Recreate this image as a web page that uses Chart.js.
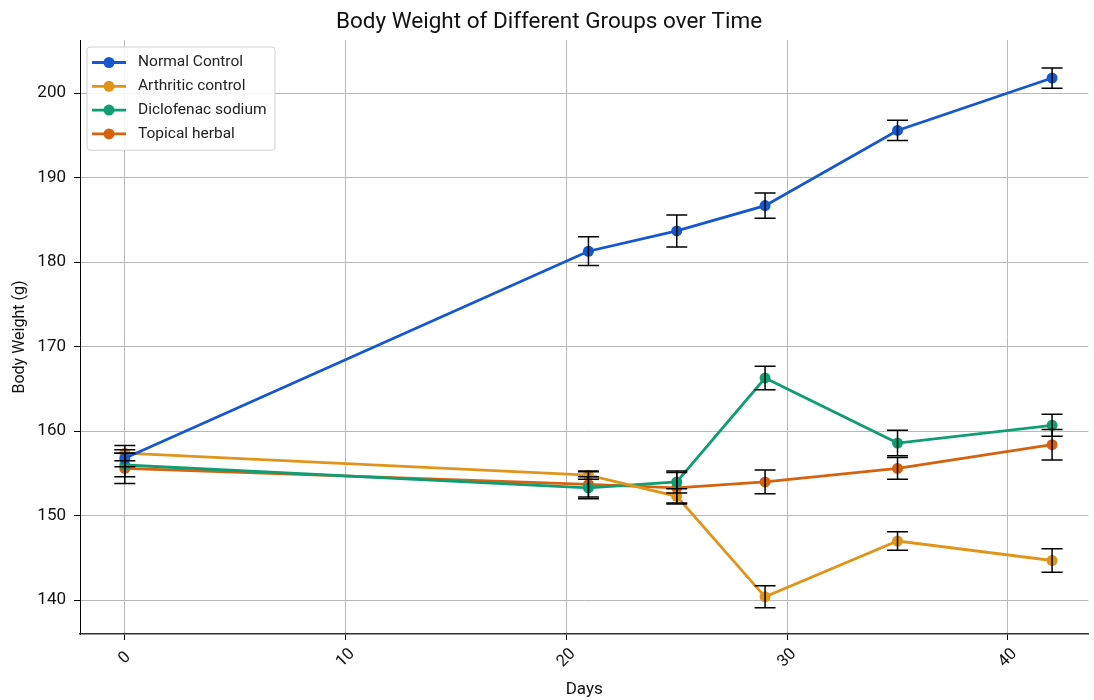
<!DOCTYPE html>
<html lang="en">
<head>
  <meta charset="UTF-8">
  <title>Body Weight</title>
  <script src="https://cdn.jsdelivr.net/npm/chart.js"></script>
  <style>
    html, body { margin: 0; padding: 0; background: #fff; }
    #wrap { width: 1094px; height: 700px; }
  </style>
</head>
<body>
  <div id="wrap"><canvas id="chart"></canvas></div>

  <script>
    const days = [0, 21, 25, 29, 35, 42];
    const xTicks = [0, 10, 20, 30, 40];
    const yTicks = [140, 150, 160, 170, 180, 190, 200];

    const normalMean = [156.8, 181.3, 183.7, 186.7, 195.6, 201.8];
    const normalErr = [1.0, 1.7, 1.9, 1.5, 1.2, 1.2];
    const arthriticMean = [157.4, 154.8, 152.3, 140.4, 147.0, 144.7];
    const arthriticErr = [0.9, 0.5, 0.9, 1.3, 1.1, 1.4];
    const diclofenacMean = [156.0, 153.3, 154.0, 166.3, 158.6, 160.7];
    const diclofenacErr = [1.4, 1.3, 1.3, 1.4, 1.5, 1.3];
    const herbalMean = [155.6, 153.7, 153.3, 154.0, 155.6, 158.4];
    const herbalErr = [1.8, 1.5, 1.8, 1.4, 1.3, 1.8];

    const font = 'Roboto, "Noto Sans", sans-serif';

    function series(label, mean, err, color) {
      return {
        label: label,
        data: days.map((d, i) => ({ x: d, y: mean[i] })),
        err: err,
        borderColor: color,
        backgroundColor: color,
        borderWidth: 2.8,
        pointRadius: 5.5,
        pointHoverRadius: 5.5,
        pointBorderWidth: 0,
        tension: 0
      };
    }

    // matplotlib-style error bars, drawn over the lines
    const errorBars = {
      id: 'errorBars',
      afterDatasetsDraw(chart) {
        const ctx = chart.ctx;
        const xs = chart.scales.x, ys = chart.scales.y;
        ctx.save();
        ctx.strokeStyle = '#000';
        ctx.lineWidth = 1.5;
        chart.data.datasets.forEach(ds => {
          ds.data.forEach((p, i) => {
            const px = xs.getPixelForValue(p.x);
            const top = ys.getPixelForValue(p.y + ds.err[i]);
            const bot = ys.getPixelForValue(p.y - ds.err[i]);
            ctx.beginPath();
            ctx.moveTo(px, top); ctx.lineTo(px, bot);
            ctx.moveTo(px - 10.5, top); ctx.lineTo(px + 10.5, top);
            ctx.moveTo(px - 10.5, bot); ctx.lineTo(px + 10.5, bot);
            ctx.stroke();
          });
        });
        ctx.restore();
      }
    };

    // rotated x tick labels centred under their ticks
    const xLabels = {
      id: 'xLabels',
      afterDraw(chart) {
        const ctx = chart.ctx;
        const xs = chart.scales.x;
        ctx.save();
        ctx.font = '16.5px ' + font;
        ctx.fillStyle = '#111';
        ctx.textAlign = 'center';
        ctx.textBaseline = 'middle';
        xTicks.forEach(v => {
          ctx.save();
          ctx.translate(xs.getPixelForValue(v), xs.top + 24);
          ctx.rotate(-Math.PI / 4);
          ctx.fillText(String(v), 0, 0);
          ctx.restore();
        });
        ctx.restore();
      }
    };

    // legend box inside the plot, upper left
    const innerLegend = {
      id: 'innerLegend',
      afterDraw(chart) {
        const ctx = chart.ctx;
        const a = chart.chartArea;
        const x0 = a.left + 7, y0 = a.top + 7;
        const w = 188, rowH = 23.8, h = 8 + rowH * chart.data.datasets.length;
        ctx.save();
        ctx.fillStyle = 'rgba(255,255,255,0.85)';
        ctx.strokeStyle = '#d0d0d0';
        ctx.lineWidth = 1;
        ctx.beginPath();
        ctx.roundRect(x0, y0, w, h, 3);
        ctx.fill();
        ctx.stroke();
        ctx.font = '15.5px ' + font;
        ctx.textBaseline = 'middle';
        chart.data.datasets.forEach((ds, i) => {
          const cy = y0 + 15.5 + i * rowH;
          ctx.strokeStyle = ds.borderColor;
          ctx.fillStyle = ds.borderColor;
          ctx.lineWidth = 2.8;
          ctx.beginPath();
          ctx.moveTo(x0 + 5, cy); ctx.lineTo(x0 + 39, cy);
          ctx.stroke();
          ctx.beginPath();
          ctx.arc(x0 + 22, cy, 5.5, 0, Math.PI * 2);
          ctx.fill();
          ctx.fillStyle = '#222';
          ctx.fillText(ds.label, x0 + 51, cy);
        });
        ctx.restore();
      }
    };

    new Chart(document.getElementById('chart'), {
      type: 'line',
      data: {
        datasets: [
          series('Normal Control', normalMean, normalErr, '#1557cc'),
          series('Arthritic control', arthriticMean, arthriticErr, '#e0951a'),
          series('Diclofenac sodium', diclofenacMean, diclofenacErr, '#119d73'),
          series('Topical herbal', herbalMean, herbalErr, '#d5620f')
        ]
      },
      plugins: [errorBars, xLabels, innerLegend],
      options: {
        responsive: true,
        maintainAspectRatio: false,
        animation: false,
        layout: { padding: { left: 0, right: -4, top: 0, bottom: 0 } },
        plugins: {
          legend: { display: false },
          tooltip: { enabled: false },
          title: {
            display: true,
            text: 'Body Weight of Different Groups over Time',
            color: '#111',
            font: { family: font, size: 22.5, weight: 'normal' },
            padding: { top: 9, bottom: 4 }
          }
        },
        scales: {
          x: {
            type: 'linear',
            min: -2.03,
            max: 43.65,
            afterBuildTicks: s => { s.ticks = xTicks.map(v => ({ value: v })); },
            afterFit: s => { s.height = 66; s.paddingLeft = 0; s.paddingRight = 0; },
            grid: { color: '#b8b8b8', lineWidth: 1, tickLength: 6, tickColor: '#000' },
            border: { color: '#333', width: 1.5 },
            ticks: { color: 'rgba(0,0,0,0)', font: { family: font, size: 16 }, maxRotation: 0 },
            title: {
              display: true,
              text: 'Days',
              color: '#111',
              font: { family: font, size: 17 },
              padding: { top: 0, bottom: 0 }
            }
          },
          y: {
            min: 136,
            max: 206.3,
            afterBuildTicks: s => { s.ticks = yTicks.map(v => ({ value: v })); },
            afterFit: s => { s.width = 80; },
            grid: { color: '#b8b8b8', lineWidth: 1, tickLength: 6, tickColor: '#000' },
            border: { color: '#000', width: 1 },
            ticks: {
              color: '#111',
              font: { family: font, size: 17 },
              padding: 8
            },
            title: {
              display: true,
              text: 'Body Weight (g)',
              color: '#111',
              font: { family: font, size: 16 },
              padding: { top: 10, bottom: 4 }
            }
          }
        }
      }
    });
  </script>
</body>
</html>
